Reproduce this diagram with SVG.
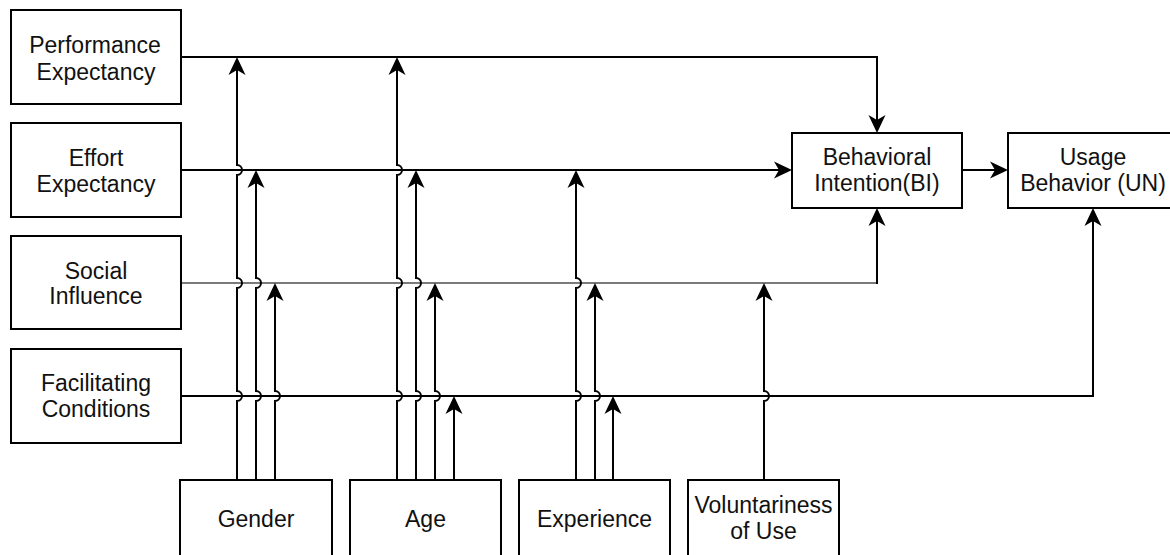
<svg xmlns="http://www.w3.org/2000/svg" width="1170" height="555" viewBox="0 0 1170 555">
  <style>
    .box { fill: #ffffff; stroke: #000000; stroke-width: 2; }
    .lbl { font-family: "Liberation Sans", Arial, sans-serif; font-size: 23px; fill: #111111; text-anchor: middle; }
    .wire { fill: none; stroke: #000000; stroke-width: 2; }
    .arrow { marker-end: url(#head); }
    .faint { stroke: #7a7a7a; }
  </style>
  <defs>
    <!-- classic notched arrowhead; tip sits 13px beyond the path end -->
    <marker id="head" markerUnits="userSpaceOnUse" viewBox="-6 -9 20 18" markerWidth="20" markerHeight="18" refX="0" refY="0" orient="auto">
      <path d="M13,0 L-5,-8.5 L0,0 L-5,8.5 Z" fill="#000000"/>
    </marker>
  </defs>

  <!-- connectors -->
  <g id="connectors">
    <!-- construct lines -->
    <path class="wire arrow" d="M181 57 H877 V120"/>
    <path class="wire arrow" d="M181 170 H779"/>
    <path class="wire faint" d="M181 283 H877"/>
    <path class="wire arrow" d="M877 284 V221"/>
    <path class="wire arrow" d="M181 396 H1093 V221"/>
    <path class="wire arrow" d="M962 170 H995"/>

    <!-- gender moderators -->
    <path class="wire arrow" d="M237 480 V401 A5 5 0 0 0 237 391 V288 A5 5 0 0 0 237 278 V175 A5 5 0 0 0 237 165 V70"/>
    <path class="wire arrow" d="M256 480 V401 A5 5 0 0 0 256 391 V288 A5 5 0 0 0 256 278 V183"/>
    <path class="wire arrow" d="M275 480 V401 A5 5 0 0 0 275 391 V296"/>

    <!-- age moderators -->
    <path class="wire arrow" d="M397 480 V401 A5 5 0 0 0 397 391 V288 A5 5 0 0 0 397 278 V175 A5 5 0 0 0 397 165 V70"/>
    <path class="wire arrow" d="M416 480 V401 A5 5 0 0 0 416 391 V288 A5 5 0 0 0 416 278 V183"/>
    <path class="wire arrow" d="M435 480 V401 A5 5 0 0 0 435 391 V296"/>
    <path class="wire arrow" d="M454 480 V409"/>

    <!-- experience moderators -->
    <path class="wire arrow" d="M576 480 V401 A5 5 0 0 0 576 391 V288 A5 5 0 0 0 576 278 V183"/>
    <path class="wire arrow" d="M595 480 V401 A5 5 0 0 0 595 391 V296"/>
    <path class="wire arrow" d="M613 480 V409"/>

    <!-- voluntariness moderator -->
    <path class="wire arrow" d="M764 480 V401 A5 5 0 0 0 764 391 V296"/>
  </g>

  <g id="performance-expectancy">
    <rect class="box" x="11" y="10" width="170" height="94"/>
    <text class="lbl" x="95" y="53">Performance</text>
    <text class="lbl" x="96" y="80">Expectancy</text>
  </g>
  <g id="effort-expectancy">
    <rect class="box" x="11" y="123" width="170" height="94"/>
    <text class="lbl" x="96" y="166">Effort</text>
    <text class="lbl" x="96" y="192">Expectancy</text>
  </g>
  <g id="social-influence">
    <rect class="box" x="11" y="236" width="170" height="93"/>
    <text class="lbl" x="96" y="279">Social</text>
    <text class="lbl" x="96" y="304">Influence</text>
  </g>
  <g id="facilitating-conditions">
    <rect class="box" x="11" y="349" width="170" height="94"/>
    <text class="lbl" x="96" y="391">Facilitating</text>
    <text class="lbl" x="96" y="417">Conditions</text>
  </g>

  <g id="behavioral-intention">
    <rect class="box" x="792" y="133" width="170" height="75"/>
    <text class="lbl" x="877" y="165">Behavioral</text>
    <text class="lbl" x="877" y="191">Intention(BI)</text>
  </g>
  <g id="usage-behavior">
    <rect class="box" x="1008" y="133" width="170" height="75"/>
    <text class="lbl" x="1093" y="165">Usage</text>
    <text class="lbl" x="1093" y="191">Behavior (UN)</text>
  </g>

  <g id="gender">
    <rect class="box" x="180" y="480" width="152" height="100"/>
    <text class="lbl" x="256" y="527">Gender</text>
  </g>
  <g id="age">
    <rect class="box" x="350" y="480" width="151" height="100"/>
    <text class="lbl" x="425.5" y="527">Age</text>
  </g>
  <g id="experience">
    <rect class="box" x="519" y="480" width="151" height="100"/>
    <text class="lbl" x="594.5" y="527">Experience</text>
  </g>
  <g id="voluntariness-of-use">
    <rect class="box" x="688" y="480" width="151" height="100"/>
    <text class="lbl" x="763.5" y="513">Voluntariness</text>
    <text class="lbl" x="763.5" y="539">of Use</text>
  </g>
</svg>
